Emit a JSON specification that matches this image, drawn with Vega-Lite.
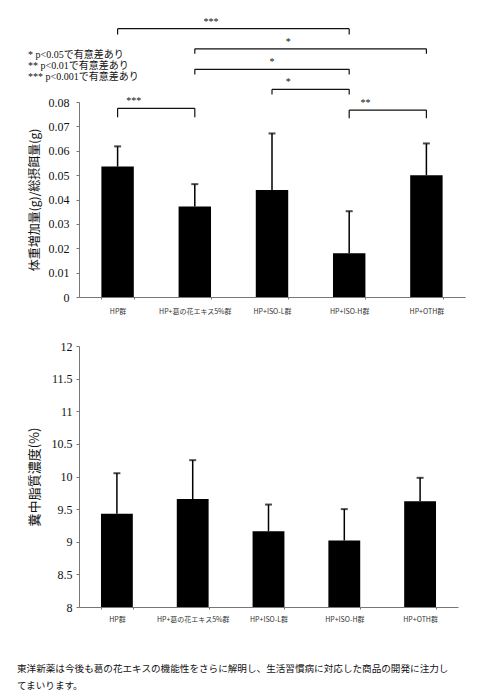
{
  "$schema": "https://vega.github.io/schema/vega-lite/v6.json",
  "background": "white",
  "padding": {"left": 17, "top": 16, "right": 5, "bottom": 5},
  "config": {
    "view": {"stroke": null},
    "font": "Liberation Serif, Noto Sans CJK JP",
    "axis": {
      "grid": false,
      "domainColor": "#777",
      "tickColor": "#777",
      "labelColor": "#111",
      "titleColor": "#111",
      "titleFont": "Noto Sans CJK JP",
      "titleFontWeight": "normal"
    }
  },
  "title": {
    "text": [
      " 東洋新薬は今後も葛の花エキスの機能性をさらに解明し、生活習慣病に対応した商品の開発に注力し",
      "てまいります。"
    ],
    "orient": "bottom",
    "anchor": "start",
    "frame": "bounds",
    "font": "Noto Sans CJK JP",
    "fontSize": 9.6,
    "fontWeight": "normal",
    "lineHeight": 17,
    "offset": 42,
    "dx": -11,
    "color": "#111"
  },
  "datasets": {
    "weight": [
      {"group": "HP群", "mean": 0.0535, "upper": 0.0618},
      {"group": "HP+葛の花エキス5%群", "mean": 0.0371, "upper": 0.0463},
      {"group": "HP+ISO-L群", "mean": 0.0439, "upper": 0.0671},
      {"group": "HP+ISO-H群", "mean": 0.018, "upper": 0.0352},
      {"group": "HP+OTH群", "mean": 0.05, "upper": 0.063}
    ],
    "fat": [
      {"group": "HP群", "mean": 9.43, "upper": 10.05},
      {"group": "HP+葛の花エキス5%群", "mean": 9.655, "upper": 10.25},
      {"group": "HP+ISO-L群", "mean": 9.16, "upper": 9.57},
      {"group": "HP+ISO-H群", "mean": 9.02, "upper": 9.5},
      {"group": "HP+OTH群", "mean": 9.62, "upper": 9.98}
    ],
    "brackets": [
      {"from": "HP群", "to": "HP+葛の花エキス5%群", "level": 0.0774, "tip": 0.0737, "sig": "***", "mid": "HP群", "midAt": "edge"},
      {"from": "HP+ISO-H群", "to": "HP+OTH群", "level": 0.0767, "tip": 0.0733, "sig": "**", "mid": "HP+ISO-H群", "midAt": "edge"},
      {"from": "HP群", "to": "HP+ISO-H群", "level": 0.1101, "tip": 0.1077, "sig": "***", "mid": "HP+葛の花エキス5%群", "midAt": "edge"},
      {"from": "HP+葛の花エキス5%群", "to": "HP+OTH群", "level": 0.1018, "tip": 0.0998, "sig": "*", "mid": "HP+ISO-L群", "midAt": "edge"},
      {"from": "HP+葛の花エキス5%群", "to": "HP+ISO-H群", "level": 0.0934, "tip": 0.0913, "sig": "*", "mid": "HP+ISO-L群", "midAt": "center"},
      {"from": "HP+ISO-L群", "to": "HP+ISO-H群", "level": 0.0852, "tip": 0.0831, "sig": "*", "mid": "HP+ISO-L群", "midAt": "edge"}
    ]
  },
  "vconcat": [
    {
      "width": 386,
      "height": 195,
      "title": {
        "text": ["* p<0.05で有意差あり", "** p<0.01で有意差あり", "*** p<0.001で有意差あり"],
        "anchor": "start",
        "frame": "bounds",
        "font": "Liberation Serif, Noto Sans CJK JP",
        "fontSize": 10,
        "fontWeight": "normal",
        "lineHeight": 11,
        "dy": 69,
        "color": "#111"
      },
      "layer": [
        {
          "data": {"name": "weight"},
          "mark": {"type": "bar", "color": "#000"},
          "encoding": {
            "x": {
              "field": "group",
              "type": "nominal",
              "scale": {
                "domain": ["HP群", "HP+葛の花エキス5%群", "HP+ISO-L群", "HP+ISO-H群", "HP+OTH群"],
                "paddingInner": 0.58,
                "paddingOuter": 0.29
              },
              "axis": {
                "title": null,
                "labelFont": "Noto Sans CJK JP",
                "labelFontSize": 7,
                "labelAngle": 0,
                "labelPadding": 8,
                "labelColor": "#333",
                "tickBand": "extent",
                "tickSize": 2
              }
            },
            "y": {
              "field": "mean",
              "type": "quantitative",
              "scale": {"domain": [0, 0.08]},
              "axis": {
                "title": "体重増加量(g)/総摂餌量(g)",
                "titleFontSize": 12,
                "titlePadding": 7,
                "values": [0, 0.01, 0.02, 0.03, 0.04, 0.05, 0.06, 0.07, 0.08],
                "tickCount": 20,
                "format": "~g",
                "labelOverlap": false,
                "labelFont": "Liberation Serif",
                "labelFontSize": 12,
                "labelPadding": 7,
                "tickSize": 3
              }
            }
          }
        },
        {
          "data": {"name": "weight"},
          "mark": {"type": "rule", "color": "#000", "strokeWidth": 1.5},
          "encoding": {
            "x": {"field": "group", "type": "nominal"},
            "y": {"field": "mean", "type": "quantitative"},
            "y2": {"field": "upper"}
          }
        },
        {
          "data": {"name": "weight"},
          "mark": {"type": "tick", "color": "#000", "size": 7, "thickness": 2},
          "encoding": {
            "x": {"field": "group", "type": "nominal"},
            "y": {"field": "upper", "type": "quantitative"}
          }
        },
        {
          "data": {"name": "brackets"},
          "mark": {"type": "rule", "color": "#111", "strokeWidth": 1.2},
          "encoding": {
            "x": {"field": "from", "type": "nominal"},
            "x2": {"field": "to"},
            "y": {"field": "level", "type": "quantitative"}
          }
        },
        {
          "data": {"name": "brackets"},
          "mark": {"type": "rule", "color": "#111", "strokeWidth": 1.2},
          "encoding": {
            "x": {"field": "from", "type": "nominal"},
            "y": {"field": "level", "type": "quantitative"},
            "y2": {"field": "tip"}
          }
        },
        {
          "data": {"name": "brackets"},
          "mark": {"type": "rule", "color": "#111", "strokeWidth": 1.2},
          "encoding": {
            "x": {"field": "to", "type": "nominal"},
            "y": {"field": "level", "type": "quantitative"},
            "y2": {"field": "tip"}
          }
        },
        {
          "data": {"name": "brackets"},
          "transform": [{"filter": "datum.midAt === 'edge'"}],
          "mark": {"type": "text", "baseline": "bottom", "dy": -2, "fontSize": 10, "color": "#111"},
          "encoding": {
            "x": {"field": "mid", "type": "nominal", "bandPosition": 1},
            "y": {"field": "level", "type": "quantitative"},
            "text": {"field": "sig"}
          }
        },
        {
          "data": {"name": "brackets"},
          "transform": [{"filter": "datum.midAt === 'center'"}],
          "mark": {"type": "text", "baseline": "bottom", "dy": -2, "fontSize": 10, "color": "#111"},
          "encoding": {
            "x": {"field": "mid", "type": "nominal"},
            "y": {"field": "level", "type": "quantitative"},
            "text": {"field": "sig"}
          }
        }
      ]
    },
    {
      "width": 379,
      "height": 261,
      "data": {"name": "fat"},
      "encoding": {
        "x": {
          "field": "group",
          "type": "nominal",
          "scale": {
            "domain": ["HP群", "HP+葛の花エキス5%群", "HP+ISO-L群", "HP+ISO-H群", "HP+OTH群"],
            "paddingInner": 0.58,
            "paddingOuter": 0.29
          },
          "axis": {
            "title": null,
            "labelFont": "Noto Sans CJK JP",
            "labelFontSize": 7,
            "labelAngle": 0,
            "labelPadding": 6,
            "labelColor": "#333",
            "tickBand": "extent",
            "tickSize": 2
          }
        }
      },
      "layer": [
        {
          "mark": {"type": "bar", "color": "#000", "clip": true},
          "encoding": {
            "y": {
              "field": "mean",
              "type": "quantitative",
              "scale": {"domain": [8, 12], "zero": false},
              "axis": {
                "title": "糞中脂質濃度(%)",
                "titleFontSize": 13,
                "titlePadding": 10,
                "values": [8, 8.5, 9, 9.5, 10, 10.5, 11, 11.5, 12],
                "tickCount": 20,
                "format": "~g",
                "labelOverlap": false,
                "labelFont": "Liberation Serif",
                "labelFontSize": 12,
                "labelPadding": 4,
                "tickSize": 3
              }
            }
          }
        },
        {
          "mark": {"type": "rule", "color": "#000", "strokeWidth": 1.5},
          "encoding": {
            "y": {"field": "mean", "type": "quantitative"},
            "y2": {"field": "upper"}
          }
        },
        {
          "mark": {"type": "tick", "color": "#000", "size": 7, "thickness": 2},
          "encoding": {
            "y": {"field": "upper", "type": "quantitative"}
          }
        }
      ]
    }
  ],
  "spacing": 26
}
